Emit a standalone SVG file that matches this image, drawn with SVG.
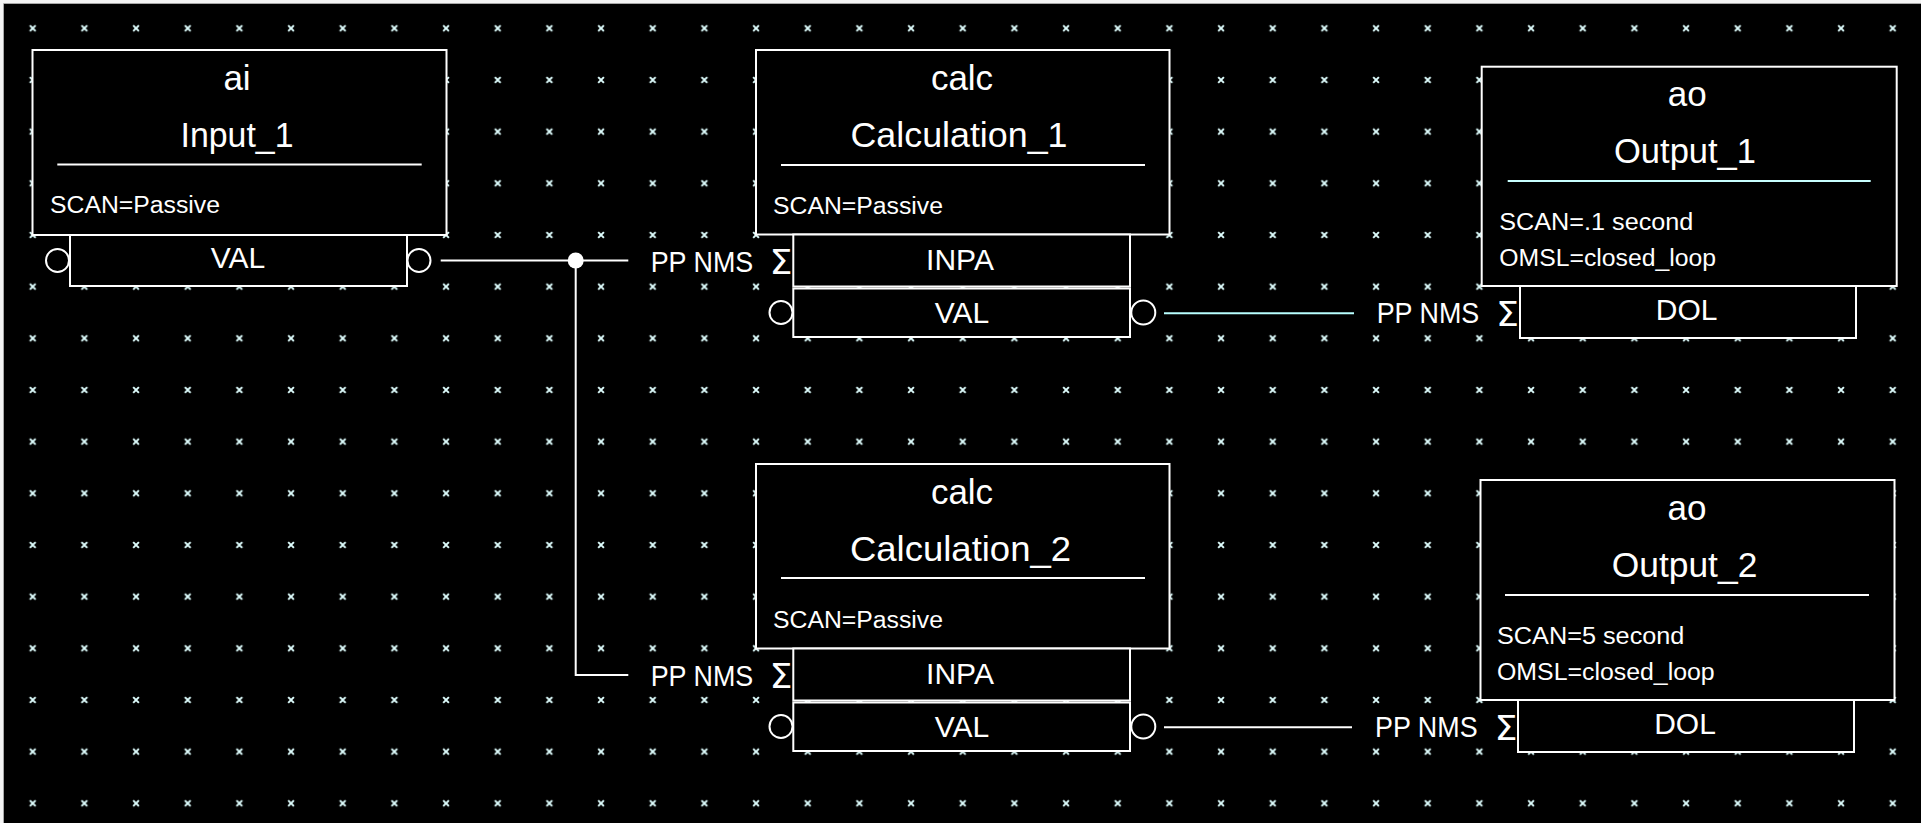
<svg xmlns="http://www.w3.org/2000/svg" width="1921" height="823" viewBox="0 0 1921 823">
<defs>
<style>
.box{fill:#000;stroke:#fff;stroke-width:2}
.rule{stroke:#fff;stroke-width:2}
.pin{fill:#000;stroke:#fff;stroke-width:2}
.wire{fill:none;stroke:#fff;stroke-width:2}
.t{font-family:"Liberation Sans",Arial,Helvetica,sans-serif;fill:#fff}
.title{font-size:35px;text-anchor:middle}
.port{font-size:30px;text-anchor:middle}
.attr{font-size:23px}
.lnk{font-size:29px}
.sig{font-family:"DejaVu Sans",sans-serif;font-size:33px;font-weight:normal}
.gx{stroke:#e0ffff;stroke-width:2}
</style>
<pattern id="grid" x="6.87" y="2.47" width="51.667" height="51.667" patternUnits="userSpaceOnUse">
<path class="gx" d="M23,23 L28.7,28.7 M28.7,23 L23,28.7"/>
</pattern>
</defs>
<rect x="0" y="0" width="1921" height="823" fill="#f4f4f4"/>
<rect x="4" y="4" width="1917" height="819" fill="#000"/>
<rect x="4" y="4" width="1917" height="819" fill="url(#grid)"/>
<line x1="3.5" y1="3.5" x2="1921" y2="3.5" stroke="#a8a8a8" stroke-width="1"/>
<line x1="3.5" y1="3.5" x2="3.5" y2="823" stroke="#a8a8a8" stroke-width="1"/>

<g id="connectors">
<path class="wire" d="M440.7,260.5 H628.3"/>
<path class="wire" d="M575.7,260.5 V675 H628.3"/>
<circle cx="575.7" cy="260.5" r="8" fill="#fff"/>
<text class="t lnk" x="650.7" y="271.7" textLength="102.6" lengthAdjust="spacingAndGlyphs">PP NMS</text>
<text class="t lnk" x="650.7" y="685.7" textLength="102.6" lengthAdjust="spacingAndGlyphs">PP NMS</text>
<path class="wire" d="M1164,313.3 H1354" style="stroke:#b8ffff"/>
<text class="t lnk" x="1376.7" y="323" textLength="102.6" lengthAdjust="spacingAndGlyphs">PP NMS</text>
<path class="wire" d="M1164,727.3 H1352"/>
<text class="t lnk" x="1375" y="737" textLength="102.6" lengthAdjust="spacingAndGlyphs">PP NMS</text>
</g>

<g id="Input_1">
<rect class="box" x="32.5" y="50" width="414" height="185"/>
<text class="t title" x="237" y="90">ai</text>
<text class="t title" x="237" y="146.7" textLength="113" lengthAdjust="spacingAndGlyphs">Input_1</text>
<line class="rule" x1="57.3" y1="164.5" x2="421.7" y2="164.5"/>
<text class="t attr" x="50" y="213" textLength="170" lengthAdjust="spacingAndGlyphs">SCAN=Passive</text>
<rect class="box" x="70" y="235" width="337" height="51"/>
<text class="t port" x="238" y="268">VAL</text>
<circle class="pin" cx="57.5" cy="260.5" r="11.5"/>
<circle class="pin" cx="419" cy="260.5" r="11.5"/>
</g>

<g id="Calculation_1">
<rect class="box" x="756" y="50" width="413.5" height="184.5"/>
<text class="t title" x="962" y="90">calc</text>
<text class="t title" x="959" y="146.7" textLength="217" lengthAdjust="spacingAndGlyphs">Calculation_1</text>
<line class="rule" x1="781" y1="165" x2="1145" y2="165"/>
<text class="t attr" x="773" y="214" textLength="170" lengthAdjust="spacingAndGlyphs">SCAN=Passive</text>
<rect class="box" x="793.3" y="234.5" width="336.7" height="52"/>
<text class="t port" x="960" y="269.5">INPA</text>
<rect class="box" x="793.3" y="288.5" width="336.7" height="48.5"/>
<text class="t port" x="962" y="323">VAL</text>
<text class="t sig" x="769.5" y="273.5" textLength="23" lengthAdjust="spacingAndGlyphs">Σ</text>
<circle class="pin" cx="781" cy="312.5" r="11.5"/>
<circle class="pin" cx="1143.3" cy="312.5" r="12"/>
</g>

<g id="Calculation_2" transform="translate(0,414)">
<rect class="box" x="756" y="50" width="413.5" height="184.5"/>
<text class="t title" x="962" y="90">calc</text>
<text class="t title" x="960.5" y="146.7" textLength="221" lengthAdjust="spacingAndGlyphs">Calculation_2</text>
<line class="rule" x1="781" y1="164" x2="1145" y2="164"/>
<text class="t attr" x="773" y="214" textLength="170" lengthAdjust="spacingAndGlyphs">SCAN=Passive</text>
<rect class="box" x="793.3" y="234.5" width="336.7" height="52"/>
<text class="t port" x="960" y="269.5">INPA</text>
<rect class="box" x="793.3" y="288.5" width="336.7" height="48.5"/>
<text class="t port" x="962" y="323">VAL</text>
<text class="t sig" x="769.5" y="273.5" textLength="23" lengthAdjust="spacingAndGlyphs">Σ</text>
<circle class="pin" cx="781" cy="312.5" r="11.5"/>
<circle class="pin" cx="1143.3" cy="312.5" r="12"/>
</g>

<g id="Output_1">
<rect class="box" x="1481.7" y="66.7" width="415" height="219.3"/>
<text class="t title" x="1687.3" y="106">ao</text>
<text class="t title" x="1685" y="162.7" textLength="142" lengthAdjust="spacingAndGlyphs">Output_1</text>
<line class="rule" x1="1507.7" y1="181" x2="1870.7" y2="181" style="stroke:#c8ffff"/>
<text class="t attr" x="1499.3" y="230" textLength="194" lengthAdjust="spacingAndGlyphs">SCAN=.1 second</text>
<text class="t attr" x="1499.3" y="266" textLength="216.7" lengthAdjust="spacingAndGlyphs">OMSL=closed_loop</text>
<rect class="box" x="1520" y="286" width="336" height="52"/>
<text class="t port" x="1686.7" y="320">DOL</text>
<text class="t sig" x="1496" y="325.5" textLength="23" lengthAdjust="spacingAndGlyphs">Σ</text>
</g>

<g id="Output_2" transform="translate(0,414)">
<rect class="box" x="1480.5" y="66" width="414" height="220"/>
<text class="t title" x="1687" y="106">ao</text>
<text class="t title" x="1684.5" y="162.7" textLength="145.7" lengthAdjust="spacingAndGlyphs">Output_2</text>
<line class="rule" x1="1505" y1="181" x2="1869" y2="181"/>
<text class="t attr" x="1497" y="230" textLength="187.4" lengthAdjust="spacingAndGlyphs">SCAN=5 second</text>
<text class="t attr" x="1497" y="266" textLength="217.7" lengthAdjust="spacingAndGlyphs">OMSL=closed_loop</text>
<rect class="box" x="1518" y="286" width="336" height="52"/>
<text class="t port" x="1685" y="320">DOL</text>
<text class="t sig" x="1494.5" y="325.5" textLength="23" lengthAdjust="spacingAndGlyphs">Σ</text>
</g>
</svg>
